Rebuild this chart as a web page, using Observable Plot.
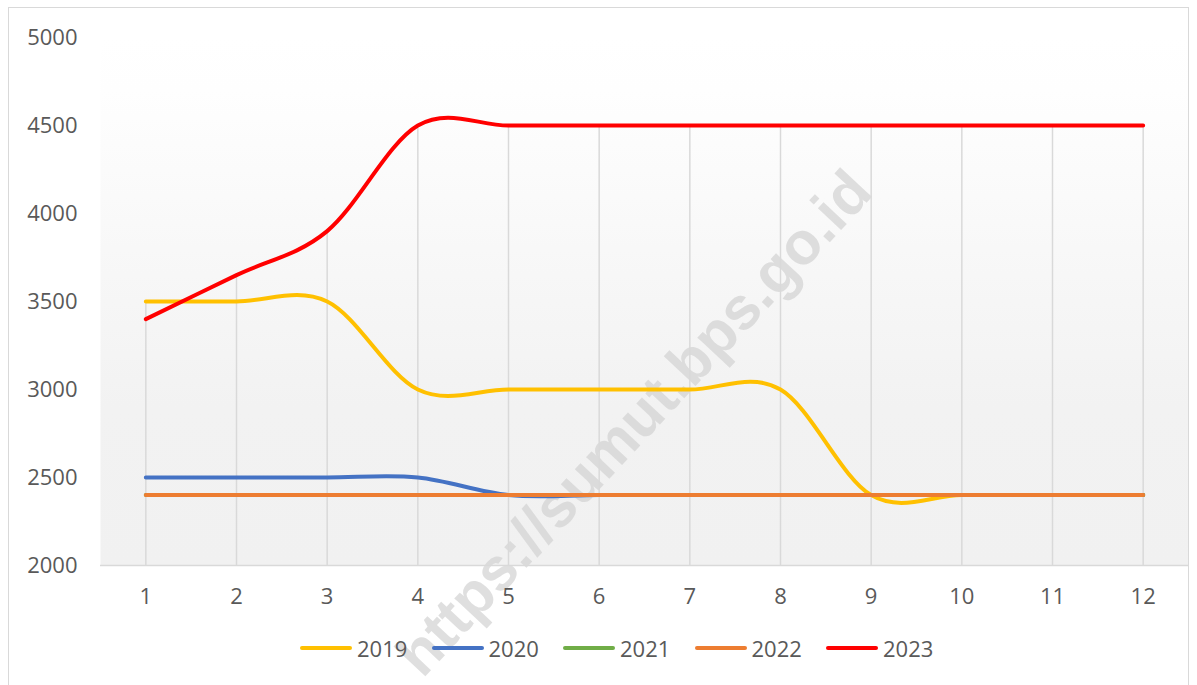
<!DOCTYPE html>
<html>
<head>
<meta charset="utf-8">
<script src="https://cdn.jsdelivr.net/npm/d3@7"></script>
<script src="https://cdn.jsdelivr.net/npm/@observablehq/plot@0.6"></script>
<style>
  html, body { margin: 0; padding: 0; background: #fff; }
  #wrap { position: relative; width: 1197px; height: 685px; overflow: hidden; font-family: "Open Sans", sans-serif; }
  #border { position: absolute; left: 8px; top: 7px; width: 1181px; height: 720px; border: 1px solid #d9d9d9; box-sizing: border-box; pointer-events: none; }
  #chart { position: absolute; left: 0; top: 0; }
  #legend { position: absolute; left: 300px; top: 632px; display: flex; align-items: center; height: 32px; }
  .item { display: flex; align-items: center; width: 131.5px; }
  .sw { width: 52px; height: 4.5px; border-radius: 3px; margin-right: 5px; }
  .lab { font-size: 22px; color: #595959; line-height: 1; }
</style>
</head>
<body>
<div id="wrap">
  <div id="chart"></div>
  <div id="border"></div>
  <div id="legend"></div>
</div>
<script>
const months = [1, 2, 3, 4, 5, 6, 7, 8, 9, 10, 11, 12];
const seriesNames = ["2019", "2020", "2021", "2022", "2023"];
const seriesColors = ["#FFC000", "#4472C4", "#70AD47", "#ED7D31", "#FF0000"];
const v2019 = [3500, 3500, 3500, 3000, 3000, 3000, 3000, 3000, 2400, 2400, 2400, 2400];
const v2020 = [2500, 2500, 2500, 2500, 2400, 2400, 2400, 2400, 2400, 2400, 2400, 2400];
const v2021 = [2400, 2400, 2400, 2400, 2400, 2400, 2400, 2400, 2400, 2400, 2400, 2400];
const v2022 = [2400, 2400, 2400, 2400, 2400, 2400, 2400, 2400, 2400, 2400, 2400, 2400];
const v2023 = [3400, 3650, 3900, 4500, 4500, 4500, 4500, 4500, 4500, 4500, 4500, 4500];
const yTicks = [2000, 2500, 3000, 3500, 4000, 4500, 5000];
const watermark = "https://sumut.bps.go.id";

const allSeries = [v2019, v2020, v2021, v2022, v2023];
const rows = [];
allSeries.forEach((vals, si) => {
  vals.forEach((v, i) => rows.push({ series: seriesNames[si], month: months[i], value: v }));
});
const drops = months.map((m, i) => ({ month: m, top: d3.max(allSeries, s => s[i]) }));

const gradientDefs = () => {
  const defs = d3.create("svg:defs");
  const g = defs.append("linearGradient").attr("id", "bgGrad").attr("x1", 0).attr("y1", 0).attr("x2", 0).attr("y2", 1);
  g.append("stop").attr("offset", "0%").attr("stop-color", "#ffffff");
  g.append("stop").attr("offset", "10%").attr("stop-color", "#fefefe");
  g.append("stop").attr("offset", "70%").attr("stop-color", "#f2f2f2");
  g.append("stop").attr("offset", "100%").attr("stop-color", "#f1f1f1");
  return defs.node();
};

const chart = Plot.plot({
  width: 1197,
  height: 685,
  marginLeft: 100,
  marginRight: 9,
  marginTop: 37,
  marginBottom: 120,
  style: { fontFamily: "Open Sans, sans-serif", fontSize: "22px", background: "transparent", overflow: "visible" },
  x: { type: "linear", domain: [0.5, 12.5], label: null },
  y: { domain: [2000, 5000], label: null },
  color: { domain: seriesNames, range: seriesColors },
  marks: [
    gradientDefs,
    Plot.frame({ fill: "url(#bgGrad)", stroke: null }),
    Plot.text([watermark], {
      frameAnchor: "middle", rotate: -47, dx: -10, dy: 122,
      fontSize: 60, fontWeight: "bold", fontFamily: "Liberation Sans, Arial, sans-serif",
      fill: "#d2d2d2", fillOpacity: 0.7
    }),
    Plot.ruleX(drops, { x: "month", y1: 2000, y2: "top", stroke: "#d9d9d9", strokeWidth: 1.5 }),
    Plot.ruleY([2000], { stroke: "#d9d9d9", strokeWidth: 1.5 }),
    Plot.axisY({ ticks: yTicks, tickFormat: d => String(d), tickSize: 0, tickPadding: 23, fontSize: 22, color: "#595959" }),
    Plot.axisX({ ticks: months, tickFormat: d => String(d), tickSize: 0, tickPadding: 23, fontSize: 22, color: "#595959" }),
    Plot.line(rows, {
      x: "month", y: "value", z: "series", stroke: "series",
      strokeWidth: 4, curve: "cardinal", tension: 0,
      strokeLinecap: "round", strokeLinejoin: "round"
    })
  ]
});
document.getElementById("chart").appendChild(chart);

const legend = document.getElementById("legend");
seriesNames.forEach((n, i) => {
  const it = document.createElement("div");
  it.className = "item";
  const sw = document.createElement("div");
  sw.className = "sw";
  sw.style.background = seriesColors[i];
  const lab = document.createElement("span");
  lab.className = "lab";
  lab.textContent = n;
  it.appendChild(sw);
  it.appendChild(lab);
  legend.appendChild(it);
});
</script>
</body>
</html>
